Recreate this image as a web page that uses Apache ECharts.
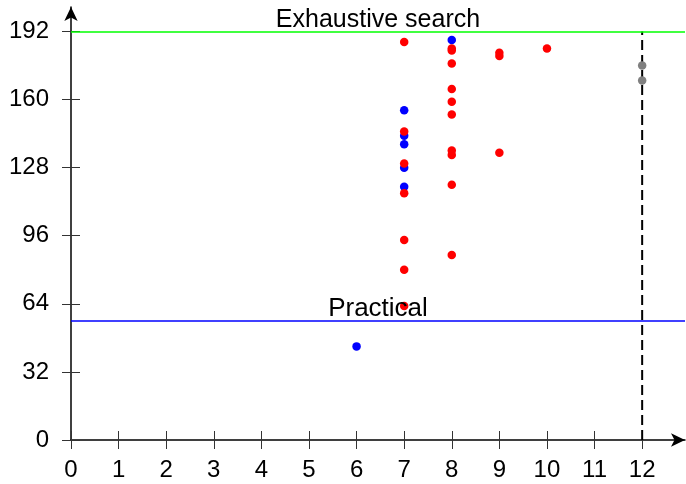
<!DOCTYPE html>
<html>
<head>
<meta charset="utf-8">
<script src="https://cdn.jsdelivr.net/npm/echarts@6/dist/echarts.min.js"></script>
<style>html,body{margin:0;padding:0;background:#fff;}#c{width:686px;height:484px;}</style>
</head>
<body>
<div id="c"></div>
<script>
var xTicks = [0,1,2,3,4,5,6,7,8,9,10,11,12];
var yTicks = [0,32,64,96,128,160,192];
var redPoints = [[7,187],[7,145],[7,130],[7,116],[7,94],[7,80],[7,63],[8,184],[8,183],[8,177],[8,165],[8,159],[8,153],[8,136],[8,134],[8,120],[8,87],[9,182],[9,180.5],[9,135],[10,184]];
var bluePoints = [[6,44],[7,155],[7,143],[7,139],[7,128],[7,119],[8,188]];
var grayPoints = [[12,176],[12,169]];
var exhaustiveLevel = 192;
var practicalLevel = 56;
var limitX = 12;
var xMax = 12.9, yMax = 203.5;

var font = 'Liberation Sans';
var W = 686, H = 484;
var gLeft = 71, gTop = 7, gRight = 1, gBottom = 44;
var gW = W - gLeft - gRight, gH = H - gTop - gBottom;
var chart = echarts.init(document.getElementById('c'), null, {renderer:'canvas'});

var tickStyle = {color:'#333', width:1};
var option = {
  animation:false,
  backgroundColor:'#fff',
  grid:{left:gLeft, top:gTop, right:gRight, bottom:gBottom, containLabel:false},
  xAxis:[
    {type:'value', min:0, max:xMax, position:'bottom',
     axisLine:{show:true, onZero:false, lineStyle:{color:'#000', width:1.5}, symbol:['none','arrow'], symbolSize:[10,14]},
     axisTick:{show:true, inside:false, length:9, customValues:xTicks, lineStyle:tickStyle},
     axisLabel:{show:true, customValues:xTicks, margin:18, fontFamily:font, fontSize:24, color:'#000'},
     splitLine:{show:false}},
    {type:'value', min:0, max:xMax, position:'top', offset:-gH,
     axisLine:{show:false, onZero:false},
     axisTick:{show:true, inside:false, length:9, customValues:xTicks, lineStyle:tickStyle},
     axisLabel:{show:false}, splitLine:{show:false}}
  ],
  yAxis:[
    {type:'value', min:0, max:yMax, position:'left',
     axisLine:{show:true, onZero:false, lineStyle:{color:'#000', width:1.5}, symbol:['none','arrow'], symbolSize:[10,14]},
     axisTick:{show:true, inside:false, length:9, customValues:yTicks, lineStyle:tickStyle},
     axisLabel:{show:true, customValues:yTicks, margin:22, fontFamily:font, fontSize:24, color:'#000'},
     splitLine:{show:false}},
    {type:'value', min:0, max:yMax, position:'right', offset:-gW,
     axisLine:{show:false, onZero:false},
     axisTick:{show:true, inside:false, length:9, customValues:yTicks, lineStyle:tickStyle},
     axisLabel:{show:false}, splitLine:{show:false}}
  ],
  series:[
    {type:'line', xAxisIndex:0, yAxisIndex:0, data:[[limitX,0],[limitX,exhaustiveLevel]], symbol:'none', lineStyle:{color:'#000', width:2, type:[10,5]}, z:1, silent:true},
    {type:'scatter', data:[], xAxisIndex:0, yAxisIndex:0, silent:true,
      markLine:{silent:true, symbol:['none','none'], animation:false,
        data:[
          [{coord:[0,exhaustiveLevel], lineStyle:{color:'#00ff00', width:1.5, type:'solid'}, label:{show:true, position:'middle', formatter:'Exhaustive search', distance:-1, fontFamily:font, fontSize:25, color:'#000'}},{coord:[xMax,exhaustiveLevel]}],
          [{coord:[0,practicalLevel], lineStyle:{color:'#0000ff', width:1.5, type:'solid'}, label:{show:true, position:'middle', formatter:'Practical', distance:-1, fontFamily:font, fontSize:26, color:'#000'}},{coord:[xMax,practicalLevel]}]
        ]}},
    {type:'scatter', xAxisIndex:0, yAxisIndex:0, data:bluePoints, symbolSize:8.5, itemStyle:{color:'#0000ff', opacity:1}, z:3},
    {type:'scatter', xAxisIndex:0, yAxisIndex:0, data:redPoints, symbolSize:8.5, itemStyle:{color:'#ff0000', opacity:1}, z:4},
    {type:'scatter', xAxisIndex:0, yAxisIndex:0, data:grayPoints, symbolSize:8.5, itemStyle:{color:'#808080', opacity:1}, z:5}
  ]
};
chart.setOption(option);
</script>
</body>
</html>
